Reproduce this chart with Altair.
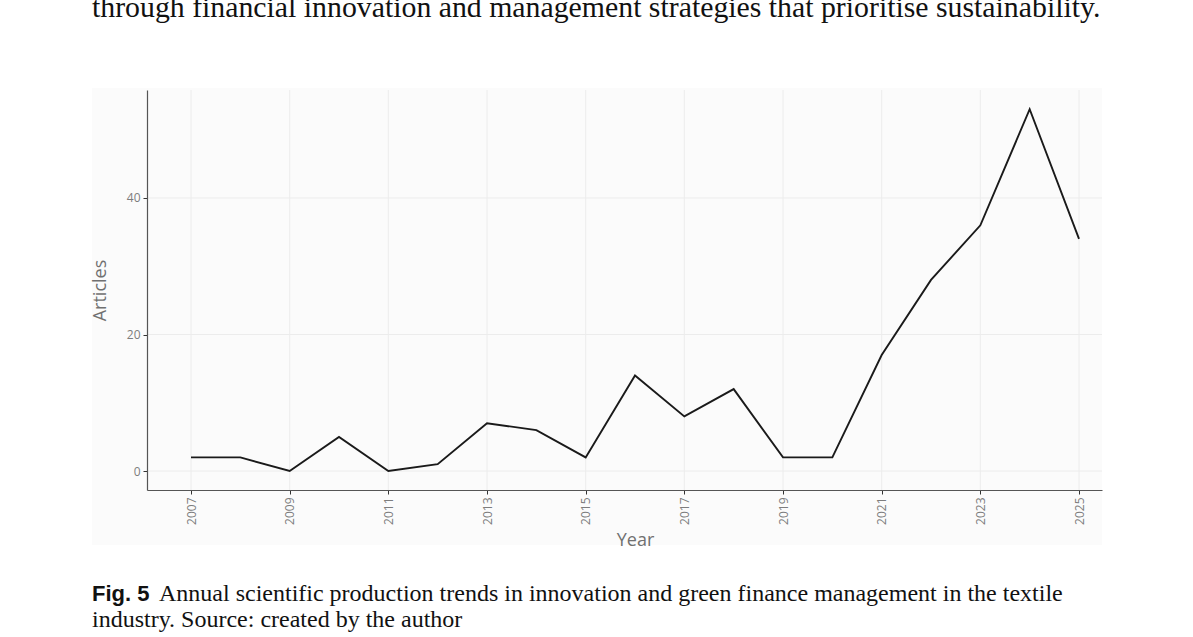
import altair as alt
import pandas as pd

# Annual article counts
years = [2007, 2008, 2009, 2010, 2011, 2012, 2013, 2014, 2015, 2016,
         2017, 2018, 2019, 2020, 2021, 2022, 2023, 2024, 2025]
articles = [2, 2, 0, 5, 0, 1, 7, 6, 2, 14, 8, 12, 2, 2, 17, 28, 36, 53, 34]

x_ticks = [2007, 2009, 2011, 2013, 2015, 2017, 2019, 2021, 2023, 2025]
y_ticks = [0, 20, 40]

body_line = ["through financial innovation and management strategies that prioritise sustainability."]
fig_label = ["Fig. 5"]
caption_1 = ["Annual scientific production trends in innovation and green finance management in the textile"]
caption_2 = ["industry. Source: created by the author"]

df = pd.DataFrame({"Year": years, "Articles": articles})

W, H = 955, 400
SANS = "Open Sans"
GREY = "#7d7d7d"
GRID = "#ececec"

x_scale = alt.Scale(domain=[2006.108, 2025.466], nice=False, zero=False)
y_scale = alt.Scale(domain=[-2.78, 55.82], nice=False, zero=False)

x_enc = alt.X(
    "Year:Q", scale=x_scale,
    axis=alt.Axis(
        values=x_ticks, format="d", grid=False, zindex=1,
        labelAngle=270, labelAlign="right", labelBaseline="middle",
        labelFont=SANS, labelFontSize=12, labelColor=GREY, labelPadding=3,
        tickSize=4, tickColor="#333333", domainColor="#555555", domainWidth=1.2,
        title="Year", titleFont=SANS, titleFontSize=18, titleFontWeight="normal",
        titleColor="#707070", titleX=488, titleY=50, titleBaseline="middle",
        titleAlign="center",
    ),
)
y_enc = alt.Y(
    "Articles:Q", scale=y_scale,
    axis=alt.Axis(
        values=y_ticks, format="d", grid=False, zindex=1,
        labelFont=SANS, labelFontSize=12, labelColor=GREY, labelPadding=3,
        tickSize=4, tickColor="#333333", domainColor="#555555", domainWidth=1.2,
        title="Articles", titleFont=SANS, titleFontSize=18, titleFontWeight="normal",
        titleColor="#707070", titleAngle=270, titleX=-47, titleY=200,
        titleBaseline="middle", titleAlign="center",
    ),
)

# soft panel backdrop behind the plot
backdrop = alt.Chart(pd.DataFrame({"k": [0]})).mark_rect(color="#fbfbfb").encode(
    x=alt.value(-55), x2=alt.value(W), y=alt.value(-2), y2=alt.value(455)
)

# major grid lines at the tick positions
vgrid = alt.Chart(pd.DataFrame({"Year": x_ticks})).mark_rule(
    color=GRID, strokeWidth=1
).encode(x=alt.X("Year:Q", scale=x_scale))
hgrid = alt.Chart(pd.DataFrame({"Articles": y_ticks})).mark_rule(
    color=GRID, strokeWidth=1
).encode(y=alt.Y("Articles:Q", scale=y_scale))

line = alt.Chart(df).mark_line(color="#1a1a1a", strokeWidth=1.9).encode(
    x=x_enc, y=y_enc
)

def text_layer(lines, x, y, font, size, weight="normal"):
    return alt.Chart(pd.DataFrame({"t": lines})).mark_text(
        align="left", baseline="alphabetic", font=font, fontSize=size,
        fontWeight=weight, color="#111111",
    ).encode(text="t:N", x=alt.value(x), y=alt.value(y))

top_text = text_layer(body_line, -55, -73, "Liberation Serif", 29.8)
fig_text = text_layer(fig_label, -55, 511, "Liberation Sans", 22, "bold")
cap1_text = text_layer(caption_1, 12, 511, "Liberation Serif", 24)
cap2_text = text_layer(caption_2, -55, 537, "Liberation Serif", 24)

chart = alt.layer(
    backdrop, vgrid, hgrid, line, top_text, fig_text, cap1_text, cap2_text
).properties(
    width=W, height=H,
    autosize=alt.AutoSizeParams(type="none"),
    padding={"left": 147, "top": 90, "right": 91, "bottom": 147},
    background="white",
).configure_view(stroke=None)

chart.save("out.html", embed_options={"renderer": "svg", "actions": False})
